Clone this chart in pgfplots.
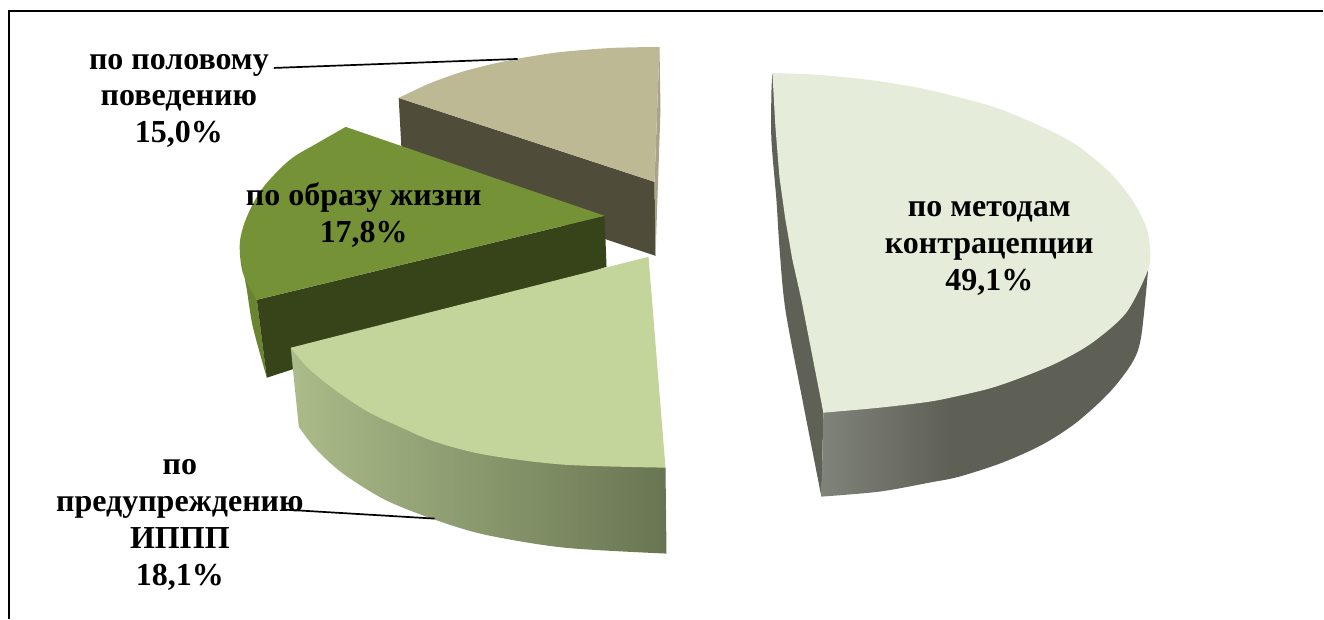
\documentclass[border=0pt]{standalone}
\usepackage{fontspec}
\setmainfont{Liberation Serif}
\usepackage{pgfplots}
\pgfplotsset{compat=1.18}
\definecolor{methodTop}{HTML}{E6ECDA}
\definecolor{methodSide}{HTML}{5F6157}
\definecolor{methodA}{HTML}{80837A}
\definecolor{methodB}{HTML}{5E5F55}
\definecolor{stiTop}{HTML}{C3D59B}
\definecolor{stiA}{HTML}{ABBB89}
\definecolor{stiB}{HTML}{8E9D70}
\definecolor{stiC}{HTML}{697552}
\definecolor{lifeTop}{HTML}{769237}
\definecolor{lifeWall}{HTML}{374419}
\definecolor{lifeSide}{HTML}{6A8532}
\definecolor{sexTop}{HTML}{BEB995}
\definecolor{sexWall}{HTML}{4F4C3A}
\definecolor{sexEdge}{HTML}{A8A488}
% rim of the largest slice: lighter at its left end, flat from about 40% onwards
\pgfdeclarehorizontalshading{methodrim}{100bp}{color(0bp)=(methodA); color(25bp)=(methodA); color(45bp)=(methodB); color(100bp)=(methodB)}
\tikzset{lbl/.style={font=\fontsize{32}{37}\selectfont\bfseries, align=center, text=black, inner sep=0pt}}
\begin{document}
\begin{tikzpicture}
\begin{axis}[
  width=1324pt, height=619pt, scale only axis,
  xmin=0, xmax=1324, ymin=0, ymax=619, y dir=reverse,
  axis lines=none, clip=false,
]
% keeps the whole canvas inside the page
\path (axis cs:0,0) rectangle (axis cs:1324,619);

% outer frame of the chart area
\addplot[black, line width=2pt, no marks] coordinates {(9,619) (9,11) (1324,11)};

% contraception slice
\addplot[draw=none, fill=methodSide, smooth, no marks] coordinates {(773,73) (772,93) (772,140) (777,200) (780,247) (786,310) (803,400) (822,497)} -- (axis cs:824,413) -- cycle;
\addplot[draw=none, shade, shading=methodrim, smooth, no marks] coordinates {(822,497) (880,492) (930,483) (960,477) (1003,463) (1043,445) (1077,423) (1110,393) (1133,363) (1142,337) (1149,270)} -- (axis cs:824,413) -- cycle;
\addplot[draw=none, fill=methodTop, smooth, no marks] coordinates {(773,73) (820,75) (870,80) (920,88) (970,100) (1003,110) (1043,127) (1077,145) (1110,172) (1133,200) (1147,227) (1151,250) (1149,270) (1127,313) (1093,343) (1060,362) (1027,376) (993,388) (960,396) (930,402) (880,408) (824,413)} -- (axis cs:802,300) -- (axis cs:793,260) -- (axis cs:786,220) -- (axis cs:780,177) -- (axis cs:776,127) -- cycle;

% sexual behaviour slice
\addplot[draw=none, fill=sexWall, no marks] coordinates {(399,98) (655,182) (656,256) (403,172)} -- cycle;
\addplot[draw=none, fill=sexEdge, no marks] coordinates {(660,47) (661,110) (656,256) (655,182)} -- cycle;
\addplot[draw=none, fill=sexTop, smooth, no marks] coordinates {(399,98) (430,83.5) (462,72) (495,63.5) (528,57) (562,52) (612,48) (660,47)} -- (axis cs:655,182) -- cycle;

% lifestyle slice
\addplot[draw=none, fill=lifeSide, smooth, no marks] coordinates {(242,263) (247,290) (253,327) (267,378)} -- (axis cs:257,300) -- cycle;
\addplot[draw=none, fill=lifeWall, no marks] coordinates {(605,216) (607,267) (267,378) (257,300)} -- cycle;
\addplot[draw=none, fill=lifeTop, smooth, no marks] coordinates {(257,300) (243,273) (240,243) (247,217) (263,188) (290,160) (318,143) (346,127)} -- (axis cs:605,216) -- cycle;

% STI prevention slice
\addplot[draw=none, left color=stiA, middle color=stiB, right color=stiC, smooth, no marks] coordinates {(299,427) (315,448) (342,473) (385,500) (435,520) (485,535) (564,548) (667,554)} -- (axis cs:666,468) -- (axis cs:291,348) -- cycle;
\addplot[draw=none, fill=stiTop, smooth, no marks] coordinates {(291,348) (308,368) (335,390) (368,412) (402,428) (435,442) (485,455) (564,465) (666,468)} -- (axis cs:649,257) -- cycle;

% leader lines
\addplot[black, line width=1.7pt, no marks] coordinates {(274,68) (518,59)};
\addplot[black, line width=1.7pt, no marks] coordinates {(285,510) (435,519)};

% slice labels
\node[lbl] at (axis cs:990,249) {по методам\\контрацепции\\49,1\%};
\node[lbl] at (axis cs:179,101) {по половому\\поведению\\15,0\%};
\node[lbl] at (axis cs:364,215) {по образу жизни\\17,8\%};
\node[lbl] at (axis cs:180,525) {по\\предупреждению\\ИППП\\18,1\%};
\end{axis}
\end{tikzpicture}
\end{document}
